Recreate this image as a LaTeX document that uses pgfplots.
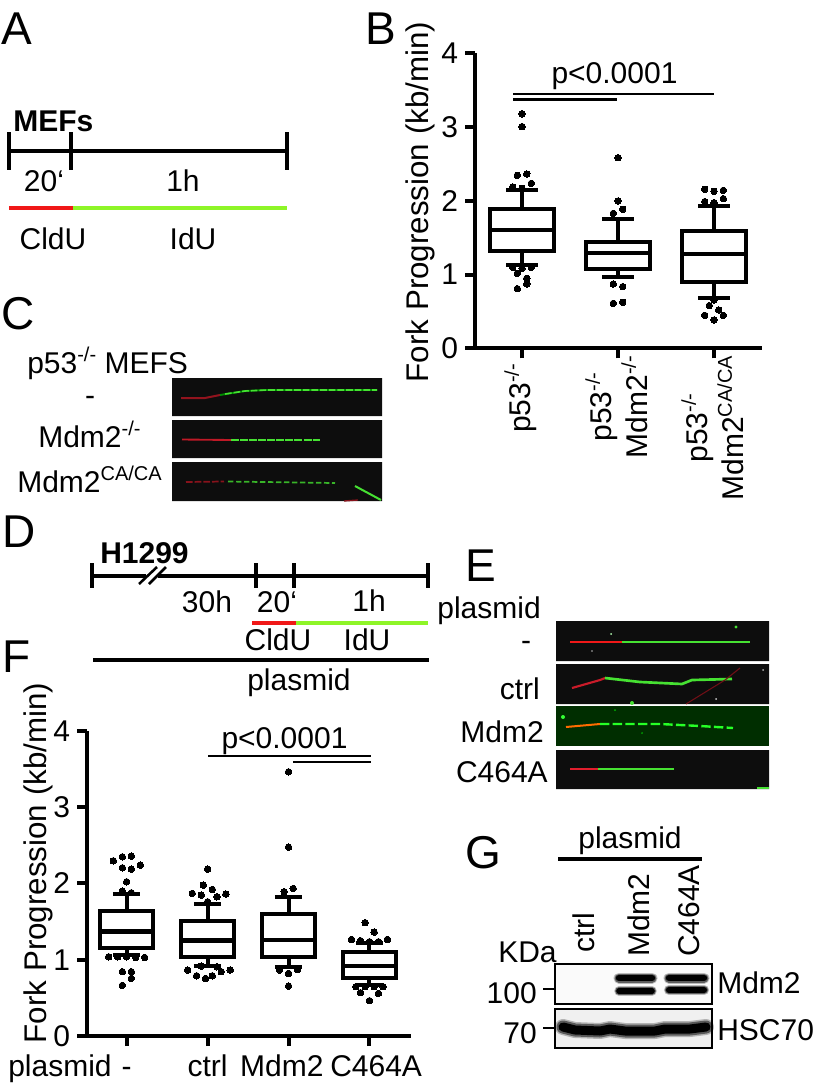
\documentclass[border=0pt]{standalone}
\usepackage{fontspec}
\setmainfont{Liberation Sans}
\usepackage{pgfplots}
\pgfplotsset{compat=1.18}
\usepgfplotslibrary{statistics}
\definecolor{gl}{RGB}{142,245,40}
\definecolor{rl}{RGB}{240,24,24}
\definecolor{gm}{RGB}{70,225,50}
\definecolor{rm}{RGB}{225,30,45}
\newcommand\fs{\fontsize{22.5}{27}\selectfont}
\newcommand\fb{\fontsize{34.5}{40}\selectfont}
\newcommand\sups[1]{\raisebox{0.40em}{\fontsize{15}{15}\selectfont #1}}
\newcommand\T[4]{\node[anchor=#3,inner sep=0pt] at (#1,#2) {#4};}
\newcommand\Lt[3]{\node[anchor=base west,inner sep=0pt,font=\fb] at (#1,#2) {#3};}
\newcommand\RT[3]{\node[anchor=base west,inner sep=0pt,rotate=90] at (#1,#2) {#3};}
\pgfplotsset{
  forkaxis/.style={
    scale only axis, clip=false,
    ymin=0, ymax=4, ytick={0,1,2,3,4},
    axis x line=bottom, axis y line=left,
    axis line style={-, line width=3pt, black},
    tick style={line width=3pt, black},
    tick align=outside, major tick length=7.5pt,
    /pgf/number format/assume math mode=true,
    tick label style={font=\fs},
    ylabel style={font=\fontsize{23.5}{27}\selectfont},
    yticklabel style={inner sep=0pt, xshift=-5pt},
    ylabel={Fork Progression (kb/min)},
    boxplot/draw direction=y,
    boxplot/every box/.style={draw=black, line width=3pt, fill=white},
    boxplot/every whisker/.style={draw=black, line width=3pt},
    boxplot/every median/.style={draw=black, line width=3.2pt},
  },
  bx/.style={black, solid},
  outl/.style={only marks, mark=*, mark size=2.45pt, black, mark options={solid, fill=black, draw=black, line width=0pt}},
}
\begin{document}
\begin{tikzpicture}
%%%%%%%%%%% PANEL B
\begin{axis}[forkaxis, name=B,
  at={(475*0.75pt,-348.3*0.75pt)}, anchor=south west,
  width=215.25pt, height=221.25pt,
  xmin=0.51, xmax=3.5, xtick={1,2,3},
  xticklabels={{p53\sups{-/-}\hspace*{6pt}},{p53\sups{-/-}\\Mdm2\sups{-/-}},{p53\sups{-/-}\\Mdm2\sups{CA/CA}}},
  xticklabel style={rotate=90, anchor=east, align=center, inner sep=0pt, yshift=1pt, xshift=2pt},
  ylabel style={at={(axis description cs:-0.191,0.496)}, anchor=center},
]
\addplot[bx, boxplot prepared={draw position=1,lower whisker=1.125,lower quartile=1.32,median=1.605,upper quartile=1.89,upper whisker=2.14,box extend=0.67,whisker extend=0.33}] coordinates {};
\addplot[bx, boxplot prepared={draw position=2,lower whisker=0.963,lower quartile=1.08,median=1.297,upper quartile=1.446,upper whisker=1.749,box extend=0.67,whisker extend=0.33}] coordinates {};
\addplot[bx, boxplot prepared={draw position=3,lower whisker=0.678,lower quartile=0.904,median=1.279,upper quartile=1.591,upper whisker=1.934,box extend=0.67,whisker extend=0.33}] coordinates {};
\addplot[outl] coordinates {
 (1,3.18)(1,3.006)(0.951,2.346)(1.049,2.364)(0.903,2.188)(1.097,2.237)(1,2.17)
 (1,1.085)(1.097,1.098)(0.903,1.098)(0.951,1.017)(1.049,0.949)(1.049,0.872)(0.951,0.809)
 (2,2.585)(2,1.998)(1.951,1.83)(2.049,1.885)(1.951,0.872)(2.049,0.836)(1.951,0.61)(2.049,0.624)
 (2.903,2.156)(3,2.129)(3.097,2.142)(2.903,1.989)(3,1.975)(3.097,2.029)
 (3,0.655)(2.951,0.579)(3.049,0.52)(2.903,0.447)(3.097,0.447)(3,0.384)
};
\end{axis}
%%%%%%%%%%% PANEL F
\begin{axis}[forkaxis, name=F,
  at={(87*0.75pt,-1036*0.75pt)}, anchor=south west,
  width=242.8pt, height=228.9pt,
  xmin=0.51, xmax=4.51, xtick={1,2,3,4},
  xticklabels={-,ctrl,{Mdm2\hspace*{10pt}},{\hspace*{10pt}C464A}},
  xticklabel style={anchor=base, inner sep=0pt, yshift=-22.5pt},
  ylabel style={at={(axis description cs:-0.151,0.567)}, anchor=center},
]
\addplot[bx, boxplot prepared={draw position=1,lower whisker=1.06,lower quartile=1.16,median=1.371,upper quartile=1.642,upper whisker=1.86,box extend=0.66,whisker extend=0.34}] coordinates {};
\addplot[bx, boxplot prepared={draw position=2,lower whisker=0.917,lower quartile=1.04,median=1.253,upper quartile=1.511,upper whisker=1.734,box extend=0.66,whisker extend=0.34}] coordinates {};
\addplot[bx, boxplot prepared={draw position=3,lower whisker=0.90,lower quartile=1.035,median=1.262,upper quartile=1.594,upper whisker=1.825,box extend=0.66,whisker extend=0.34}] coordinates {};
\addplot[bx, boxplot prepared={draw position=4,lower whisker=0.668,lower quartile=0.764,median=0.917,upper quartile=1.10,upper whisker=1.223,box extend=0.66,whisker extend=0.34}] coordinates {};
\addplot[outl] coordinates {
 (0.947,2.349)(1.058,2.358)(0.835,2.297)(0.947,2.205)(1.058,2.188)(1.169,2.24)(1,2.022)(0.947,1.90)(1.058,1.878)
 (0.889,1.039)(0.778,1.039)(1,1.039)(1.111,1.03)(1.222,1.03)(0.947,0.843)(1.058,0.843)(1.058,0.755)(0.947,0.664)
 (2,2.188)(1.947,1.978)(2.058,1.921)(1.811,1.869)(1.922,1.847)(2.115,1.825)(2.226,1.86)(2,1.76)
 (1.922,0.917)(2.115,0.908)(1.753,0.865)(1.864,0.79)(1.975,0.755)(2.058,0.79)(2.169,0.843)(2.28,0.865)
 (3,3.463)(3,2.476)(2.947,1.891)(3.058,1.934)(2.889,0.865)(3.111,0.873)(3,0.821)(3,0.655)
 (3.947,1.485)(4.058,1.362)(3.778,1.266)(3.889,1.25)(4,1.236)(4.111,1.236)(4.222,1.266)
 (3.831,0.646)(3.947,0.646)(4.058,0.646)(4.169,0.646)(3.889,0.568)(4.111,0.559)(4,0.463)
};
\end{axis}
%%%%%%%%%%% everything else, in reference pixels
\begin{scope}[x=0.75pt,y=-0.75pt,every node/.style={font=\fs}]
\path[use as bounding box] (0,0) rectangle (820,1088);
% letters
\Lt{1}{45}{A}\Lt{365}{45}{B}\Lt{1}{329}{C}\Lt{2}{547}{D}\Lt{465}{581}{E}\Lt{2}{672}{F}\Lt{465}{868}{G}
% B and F significance
\T{614.5}{84}{base}{p<0.0001}
\draw[line width=2.1pt] (513,94)--(714,94) (513,99.5)--(617,99.5);
\T{284.5}{748}{base}{p<0.0001}
\draw[line width=2.1pt] (208,756)--(371,756) (293,762)--(371,762);
\T{8}{1076}{base west}{plasmid}
% A
\node[anchor=base west,inner sep=0pt,font=\fs\bfseries] at (13,131) {MEFs};
\draw[line width=3pt] (9,151)--(287,151) (9,132)--(9,170) (71,132)--(71,170) (287,132)--(287,170);
\T{44}{191}{base}{20‘}\T{183}{191}{base}{1h}
\draw[rl,line width=3.6pt] (9,208)--(73,208);
\draw[gl,line width=3.6pt] (73,208)--(287,208);
\T{53}{249}{base}{CldU}\T{193}{249}{base}{IdU}
% C
\T{27}{373}{base west}{p53\sups{-/-} MEFS}
\T{90}{405}{base}{-}
\T{38}{447}{base west}{Mdm2\sups{-/-}}
\T{17}{492}{base west}{Mdm2\sups{CA/CA}}
\fill[black!95] (172,378) rectangle (382,416) (172,420) rectangle (382,458) (172,462) rectangle (382,501);
\draw[rm!65!black,line width=1.5pt,line join=round] (181,398)--(205,398)--(220,395);
\draw[green!55!black,line width=1.4pt,line join=round] (220,395)--(245,391)--(267,390)--(377,390);
\draw[gm,line width=1.2pt,dash pattern=on 5pt off 1.5pt] (225,394)--(245,391)--(267,390)--(377,390);
\draw[rm!85!black,line width=1.4pt] (182,439.5)--(231,440);
\draw[gm,line width=1.7pt,dash pattern=on 6pt off .8pt] (231,440)--(320,440);
\draw[rm!60!black,line width=1.3pt,dash pattern=on 5pt off 1.5pt] (186,482)--(224,481.5);
\draw[gm!80!black,line width=1.3pt,dash pattern=on 4pt off 2pt] (228,481.5)--(335,483);
\draw[gm,line width=1.5pt] (355,486)--(381,500);
\draw[rm!60!black,line width=1pt] (344,501)--(358,500);
% D
\node[anchor=base west,inner sep=0pt,font=\fs\bfseries] at (100,563) {H1299};
\draw[line width=2.7pt] (92,576)--(428,576) (92,563)--(92,588) (256,563)--(256,588) (294,563)--(294,588) (428,563)--(428,588);
\draw[white,line width=4pt] (146,576)--(158,576);
\draw[line width=1.9pt] (139,584)--(157,567) (149,584)--(166,567);
\T{207}{612}{base}{30h}\T{277}{612}{base}{20‘}\T{369}{611}{base}{1h}
\draw[rl,line width=3.6pt] (252,623)--(296,623);
\draw[gl,line width=3.6pt] (296,623)--(428,623);
\T{278}{650}{base}{CldU}\T{367}{650}{base}{IdU}
\draw[line width=3.6pt] (93,660)--(429,660);
\T{299}{690}{base}{plasmid}
% E
\T{541}{618}{base east}{plasmid}
\T{526}{650}{base}{-}
\T{540}{699}{base east}{ctrl}
\T{544}{742}{base east}{Mdm2}
\T{548}{782}{base east}{C464A}
\fill[black!95] (556,621) rectangle (769,661) (556,664) rectangle (769,704) (556,750) rectangle (769,789);
\fill[black!70!green!60!black] (556,706) rectangle (769,746);
% E1
\draw[rl,line width=2pt] (570,642)--(622,642);
\draw[gm,line width=2pt] (622,642)--(750,642);
\fill[gm] (736,627) circle (1.6);
\fill[white!70!green] (611,634) circle (1);
\fill[white!70!black] (592,651) circle (.8);
% E2
\draw[rm!90!black,line width=1.6pt,line join=round] (572,688)--(600,680)--(605,678);
\draw[gm,line width=2pt,line join=round] (605,678)--(640,682)--(682,684)--(692,680)--(732,679);
\draw[rm!50!black,line width=.8pt] (686,704)--(725,680)--(740,668);
\fill[gm] (632,703) circle (2);
\fill[white!80!black] (716,699) circle (1);\fill[white!70!black] (763,670) circle (1);
% E3
\draw[orange!85!red,line width=1.5pt] (566,727)--(600,724);
\draw[green!85!white,line width=1.8pt,dash pattern=on 7pt off 2.5pt,line join=round] (600,724)--(660,724)--(700,726)--(733,728);
\fill[green!80!white] (563,717) circle (2);\fill[green!70!black] (615,710) circle (1);\fill[green!60!black] (642,733) circle (1);
% E4
\draw[rm,line width=1.4pt] (570,769)--(598,769);
\draw[gm,line width=2.2pt] (598,769)--(674,769);
\draw[gm,line width=1.2pt] (757,788)--(769,788);
% G
\T{630}{848}{base}{plasmid}
\draw[line width=2.4pt] (558,859)--(702,859);
\RT{594}{953}{ctrl}\RT{649}{957}{Mdm2}\RT{699}{957}{C464A}
\T{498}{962}{base west}{KDa}
\T{537}{1003}{base east}{100}
\T{537}{1043}{base east}{70}
\T{717}{993}{base west}{Mdm2}
\T{717}{1040}{base west}{HSC70}
\draw[line width=.9pt] (543,989)--(555,989) (543,1028)--(555,1028);
\fill[black!2] (555,964) rectangle (712,1004);
\fill[black!6] (555,1009) rectangle (712,1048);
\foreach \w/\o in {11/.25,9/.5,6.5/1}{
 \draw[black,line width=\w*.75pt,opacity=\o,line cap=round] (619,978)--(652,978);
 \draw[black,line width=\w*.65pt,opacity=\o,line cap=round] (619,991)--(652,991);
 \draw[black,line width=\w*.75pt,opacity=\o,line cap=round] (669,978)--(704,978);
 \draw[black,line width=\w*.70pt,opacity=\o,line cap=round] (669,990)--(704,990);
}
\foreach \w/\o in {16/.25,13/.5,9/1}{
 \draw[black,line width=\w*.75pt,opacity=\o,line cap=round,line join=round] (563,1027)--(575,1030)--(600,1031)--(610,1029)--(625,1031)--(655,1031)--(665,1029)--(690,1029)--(706,1027);
}
\draw[line width=1.6pt] (555,964) rectangle (712,1004) (555,1009) rectangle (712,1048);
\end{scope}
\end{tikzpicture}
\end{document}
